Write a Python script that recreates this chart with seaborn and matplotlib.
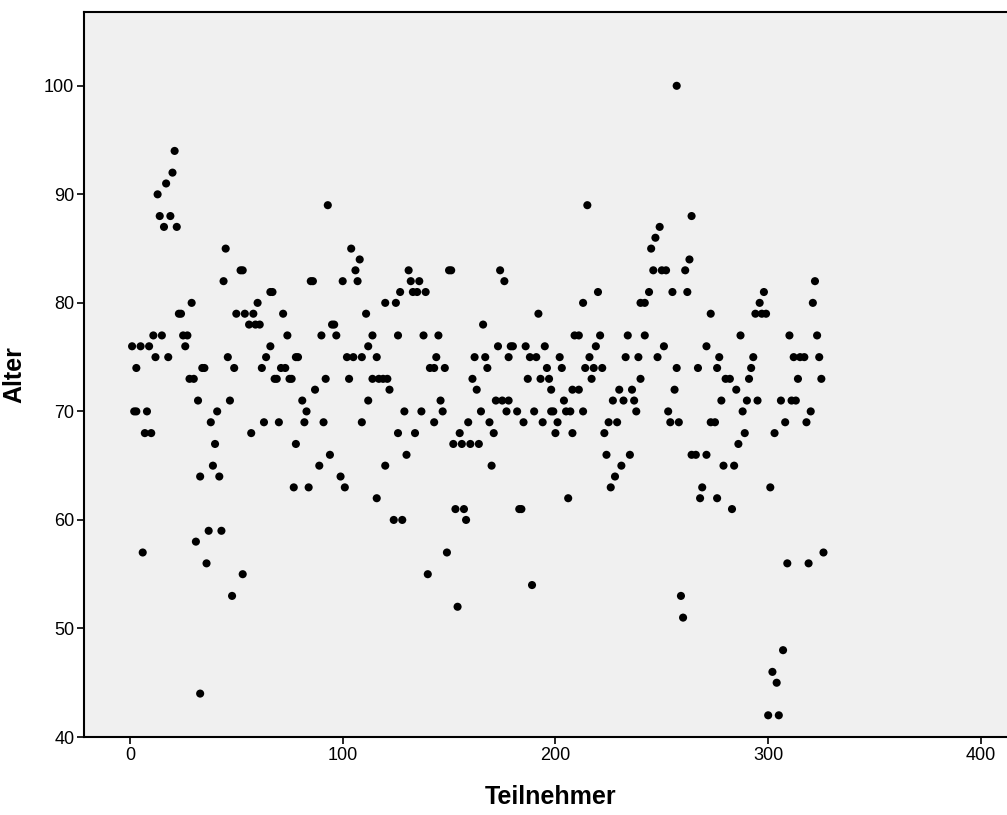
import matplotlib
matplotlib.use("Agg")
import matplotlib.pyplot as plt
import seaborn as sns
import pandas as pd

points = [
(1,76),(2,70),(3,70),(3,74),(5,76),(6,57),(7,68),(8,70),(9,76),(10,68),(11,77),(12,75),(13,90),(14,88),(15,77),(16,87),
(17,91),(18,75),(19,88),(20,92),(21,94),(22,87),(23,79),(24,79),(25,77),(26,76),(27,77),(28,73),(29,80),(30,73),(31,58),
(32,71),(33,44),(33,64),(34,74),(35,74),(36,56),(37,59),(38,69),(39,65),(40,67),(41,70),(42,64),(43,59),(44,82),(45,85),
(46,75),(47,71),(48,53),(49,74),(50,79),(52,83),(53,83),(53,55),(54,79),(56,78),(57,68),(58,79),(59,78),(60,80),(61,78),
(62,74),(63,69),(64,75),(66,76),(66,81),(67,81),(68,73),(69,73),(70,69),(71,74),(72,79),(73,74),(74,77),(75,73),(76,73),
(77,63),(78,67),(78,75),(79,75),(81,71),(82,69),(83,70),(84,63),(85,82),(86,82),(87,72),(89,65),(90,77),(91,69),(92,73),
(93,89),(94,66),(95,78),(96,78),(97,77),(99,64),(100,82),(101,63),(102,75),(103,73),(104,85),(105,75),(106,83),(107,82),
(108,84),(109,75),(109,69),(111,79),(112,76),(112,71),(114,77),(114,73),(116,75),(116,62),(117,73),(119,73),(120,80),
(120,65),(121,73),(122,72),(124,60),(125,80),(126,77),(126,68),(127,81),(128,60),(129,70),(130,66),(131,83),(132,82),
(133,81),(134,68),(135,81),(136,82),(137,70),(138,77),(139,81),(140,55),(141,74),(143,74),(143,69),(144,75),(145,77),
(146,71),(147,70),(148,74),(149,57),(150,83),(151,83),(152,67),(153,61),(154,52),(155,68),(156,67),(157,61),(158,60),
(159,69),(160,67),(161,73),(162,75),(163,72),(164,67),(165,70),(166,78),(167,75),(168,74),(169,69),(170,65),(171,68),
(172,71),(173,76),(174,83),(175,71),(176,82),(177,70),(178,75),(178,71),(179,76),(180,76),(182,70),(183,61),(184,61),
(185,69),(186,76),(187,73),(188,75),(189,54),(190,70),(191,75),(192,79),(193,73),(194,69),(195,76),(196,74),(197,73),
(198,72),(198,70),(199,70),(200,68),(201,69),(202,75),(203,74),(204,71),(205,70),(206,62),(207,70),(208,72),(208,68),
(209,77),(211,77),(211,72),(213,80),(213,70),(214,74),(215,89),(216,75),(217,73),(218,74),(219,76),(220,81),(221,77),
(222,74),(223,68),(224,66),(225,69),(226,63),(227,71),(228,64),(229,69),(230,72),(231,65),(232,71),(233,75),(234,77),
(235,66),(236,72),(237,71),(238,70),(239,75),(240,80),(240,73),(242,80),(242,77),(244,81),(245,85),(246,83),(247,86),
(248,75),(249,87),(250,83),(251,76),(252,83),(253,70),(254,69),(255,81),(256,72),(257,74),(257,100),(258,69),(259,53),
(260,51),(261,83),(262,81),(263,84),(264,88),(264,66),(266,66),(267,74),(268,62),(269,63),(271,76),(271,66),(273,79),
(273,69),(275,69),(276,74),(276,62),(277,75),(278,71),(279,65),(280,73),(282,73),(283,61),(284,65),(285,72),(286,67),
(287,77),(288,70),(289,68),(290,71),(291,73),(292,74),(293,75),(294,79),(295,71),(296,80),(297,79),(298,81),(299,79),
(300,42),(301,63),(302,46),(303,68),(304,45),(305,42),(306,71),(307,48),(308,69),(309,56),(310,77),(311,71),(312,75),
(313,71),(314,73),(315,75),(317,75),(318,69),(319,56),(320,70),(321,80),(322,82),(323,77),(324,75),(325,73),(326,57),
]
teilnehmer = [p[0] for p in points]
alter = [p[1] for p in points]
x_ticks = [0, 100, 200, 300, 400]
y_ticks = [40, 50, 60, 70, 80, 90, 100]

sns.set_style("white")
plt.rcParams['font.family'] = ['Liberation Sans', 'DejaVu Sans']
plt.rcParams['text.color'] = 'black'
plt.rcParams['axes.labelcolor'] = 'black'

df = pd.DataFrame({"Teilnehmer": teilnehmer, "Alter": alter})

fig = plt.figure(figsize=(10.07, 8.15), dpi=100)
ax = fig.add_axes([84/1007, 78/815, 1 - 84/1007 + 0.01, (737-12)/815])
ax.set_facecolor("#F0F0F0")

sns.scatterplot(data=df, x="Teilnehmer", y="Alter", ax=ax, color="black",
                s=34, edgecolor="none", linewidth=0)

ax.set_xlim(-21.6, 417)
ax.set_ylim(40, 106.8)
ax.set_xticks(x_ticks)
ax.set_yticks(y_ticks)
ax.tick_params(axis="both", direction="out", length=5, width=1.2, colors="black",
               labelcolor="black", labelsize=13, left=True, bottom=True, pad=2)
for side in ["left", "bottom", "top"]:
    ax.spines[side].set_visible(True)
    ax.spines[side].set_color("black")
    ax.spines[side].set_linewidth(1.5)
ax.spines["right"].set_visible(False)

ax.set_xlabel("Teilnehmer", fontsize=18, fontweight="bold", labelpad=15, color="black")
ax.set_ylabel("Alter", fontsize=18, fontweight="bold", labelpad=13, color="black")

fig.savefig("out.png", dpi=100, facecolor="white")
